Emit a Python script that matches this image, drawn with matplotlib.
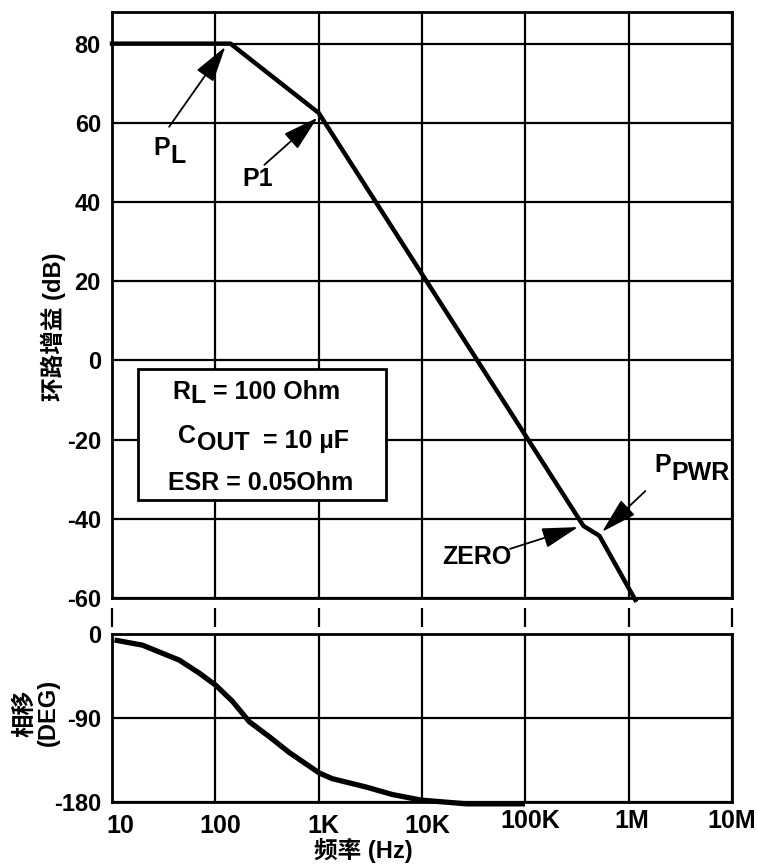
import matplotlib
matplotlib.use('Agg')
import matplotlib.pyplot as plt
import matplotlib.transforms as mtransforms
import numpy as np

plt.rcParams['font.family'] = ['Liberation Sans', 'Noto Sans CJK SC']
plt.rcParams['font.weight'] = 'bold'
plt.rcParams['axes.unicode_minus'] = False

# gain curve (Hz, dB)
gain_freq = [10, 140, 1000, 365e3, 521e3, 1.16e6]
gain_db = [80, 80, 62.5, -41.8, -44.3, -60.5]

# phase curve (Hz, deg)
phase_freq = [11.2, 19.7, 44.7, 70, 101, 146, 213, 332, 519, 1014, 1350,
              2880, 5150, 9800, 27000, 93500]
phase_deg = [-7, -12, -28, -42, -55, -72, -94, -110, -127, -149, -155,
             -164, -172, -178, -182, -182]

decades = [10, 100, 1e3, 1e4, 1e5, 1e6, 1e7]
decade_labels = ['10', '100', '1K', '10K', '100K', '1M', '10M']
gain_ticks = [80, 60, 40, 20, 0, -20, -40, -60]
phase_ticks = [0, -90, -180]

fig = plt.figure(figsize=(7.58, 8.67), dpi=100)
ax = fig.add_axes([0.1478, 0.3103, 0.8179, 0.6759])
axp = fig.add_axes([0.1478, 0.0750, 0.8179, 0.1938])

for a in (ax, axp):
    a.set_xscale('log')
    a.set_xlim(10, 1e7)
    a.set_xticks(decades)
    a.minorticks_off()
    a.grid(True, color='black', lw=1.6)
    a.tick_params(length=0, labelsize=17, pad=8)
    for s in a.spines.values():
        s.set_linewidth(2)
        s.set_zorder(3)

ax.set_ylim(-60, 88)
ax.set_yticks(gain_ticks)
ax.set_xticklabels([])
ax.plot(gain_freq, gain_db, color='black', lw=3.2, clip_on=False, zorder=4)

axp.set_ylim(-180, 0)
axp.set_yticks(phase_ticks)
axp.set_xticklabels(decade_labels)
axp.tick_params(axis='x', pad=9, labelsize=18)
# labels sit a little right of the gridlines; the last three a bit higher
label_dx = [8, 5, 5, 5, 5, 3, 0]
for i, lab in enumerate(axp.get_xticklabels()):
    lab.set_transform(lab.get_transform() +
                      mtransforms.ScaledTranslation(label_dx[i] / 100, 0,
                                                    fig.dpi_scale_trans))
    if i >= 4:
        lab.set_y(0.035)
axp.plot(phase_freq, phase_deg, color='black', lw=3.8, clip_on=False, zorder=4)

# detached decade ticks between the two panels
ax.vlines(decades, -0.05, -0.017, transform=ax.get_xaxis_transform(),
          color='black', lw=1.6, clip_on=False)

# axis titles
ax.text(-0.095, 0.462, '环路增益 (dB)', transform=ax.transAxes, rotation=90,
        ha='center', va='center', fontsize=17)
axp.text(-0.122, 0.53, '相移\n(DEG)', transform=axp.transAxes, rotation=90,
         ha='center', va='center', fontsize=17, multialignment='center',
         linespacing=1.05)
axp.text(0.406, -0.214, '频率 (Hz)', transform=axp.transAxes,
         ha='center', va='top', fontsize=17)


def sub_label(x, y, base, sub, rest='', drop=6, rest_on_sub=False,
              size=18, **kw):
    t1 = ax.text(x, y, base, ha='left', va='center', fontsize=size,
                 zorder=6, **kw)
    t2 = ax.annotate(sub, xy=(1, 0.5), xycoords=t1, xytext=(0.5, -drop),
                     textcoords='offset points', ha='left', va='center',
                     fontsize=size, zorder=6)
    if rest:
        ax.annotate(rest, xy=(1, 0.5), xycoords=(t2, t2 if rest_on_sub else t1),
                    xytext=(0, 1.5 if rest_on_sub else 0),
                    textcoords='offset points', ha='left', va='center',
                    fontsize=size, zorder=6)


# parameter box
ax.add_patch(plt.Rectangle((0.042, 0.167), 0.4, 0.224, transform=ax.transAxes,
                           facecolor='white', edgecolor='black', lw=2, zorder=5))
sub_label(0.0968, 0.3515, 'R', 'L', ' = 100 Ohm', drop=3,
          transform=ax.transAxes)
sub_label(0.1065, 0.277, 'C', 'OUT', '  = 10 µF', drop=5, rest_on_sub=True,
          transform=ax.transAxes)
ax.text(0.0903, 0.196, 'ESR = 0.05Ohm', transform=ax.transAxes,
        ha='left', va='center', fontsize=18, zorder=6)

# annotations
arrow = dict(arrowstyle='-|>,head_length=1.6,head_width=0.45', color='black',
             lw=1.3, shrinkA=0, shrinkB=0, mutation_scale=14)
ax.annotate('', xy=(125, 79.2), xytext=(35.7, 59.0), arrowprops=arrow)
sub_label(25, 53.7, 'P', 'L')
ax.annotate('', xy=(973, 61.3), xytext=(298, 49.4), arrowprops=arrow)
ax.text(182, 45.9, 'P1', ha='left', va='center', fontsize=18)
ax.annotate('', xy=(324e3, -42.1), xytext=(71e3, -47.6), arrowprops=arrow)
ax.text(15.8e3, -49.6, 'ZERO', ha='left', va='center', fontsize=18)
ax.annotate('', xy=(553e3, -43.3), xytext=(1.45e6, -33.0), arrowprops=arrow)
sub_label(1.77e6, -26.4, 'P', 'PWR')

fig.savefig('out.png', dpi=100)
